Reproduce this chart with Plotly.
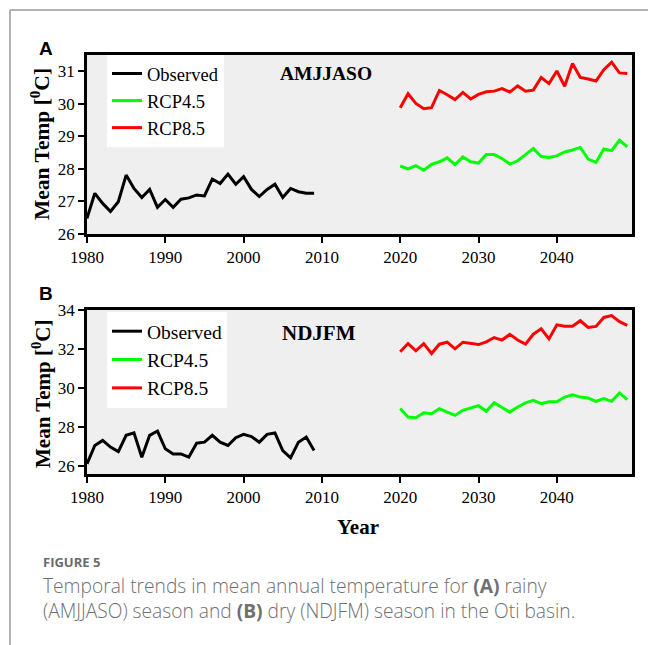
import plotly.graph_objects as go

# ---------------- data ----------------
obs_years = list(range(1980, 2010))
fut_years = list(range(2020, 2050))

obs_A = [26.48, 27.25, 26.94, 26.69, 26.99, 27.81, 27.40, 27.12, 27.37, 26.82,
         27.06, 26.82, 27.07, 27.11, 27.20, 27.17, 27.69, 27.55, 27.84, 27.53,
         27.76, 27.37, 27.15, 27.37, 27.53, 27.12, 27.40, 27.30, 27.25, 27.25]
rcp45_A = [28.09, 28.00, 28.10, 27.96, 28.14, 28.22, 28.34, 28.13, 28.37, 28.22,
           28.18, 28.44, 28.44, 28.32, 28.15, 28.25, 28.44, 28.63, 28.38, 28.35,
           28.40, 28.52, 28.58, 28.66, 28.30, 28.20, 28.61, 28.56, 28.88, 28.68]
rcp85_A = [29.88, 30.31, 30.01, 29.85, 29.88, 30.41, 30.28, 30.13, 30.35, 30.15,
           30.29, 30.37, 30.39, 30.47, 30.36, 30.55, 30.39, 30.42, 30.81, 30.62,
           31.01, 30.54, 31.24, 30.81, 30.76, 30.70, 31.05, 31.28, 30.95, 30.93]

obs_B = [26.12, 27.06, 27.32, 26.98, 26.75, 27.58, 27.71, 26.46, 27.58, 27.80,
         26.89, 26.63, 26.63, 26.46, 27.18, 27.23, 27.58, 27.23, 27.06, 27.46,
         27.63, 27.52, 27.23, 27.63, 27.70, 26.80, 26.43, 27.23, 27.49, 26.80]
rcp45_B = [28.95, 28.52, 28.48, 28.74, 28.69, 28.95, 28.77, 28.60, 28.86, 28.98,
           29.10, 28.81, 29.25, 29.01, 28.77, 29.03, 29.24, 29.37, 29.20, 29.30,
           29.30, 29.54, 29.66, 29.54, 29.49, 29.32, 29.46, 29.32, 29.75, 29.41]
rcp85_B = [31.86, 32.28, 31.91, 32.28, 31.77, 32.25, 32.35, 32.01, 32.35, 32.28,
           32.23, 32.37, 32.59, 32.46, 32.75, 32.46, 32.25, 32.76, 33.04, 32.52,
           33.24, 33.17, 33.17, 33.45, 33.11, 33.16, 33.62, 33.71, 33.40, 33.21]

series_names = ["Observed", "RCP4.5", "RCP8.5"]
series_colors = ["#000000", "#00ff00", "#ff0000"]
x_ticks = [1980, 1990, 2000, 2010, 2020, 2030, 2040]
y_ticks_A = [26, 27, 28, 29, 30, 31]
y_ticks_B = [26, 28, 30, 32, 34]
season_A = "AMJJASO"
season_B = "NDJFM"

# ---------------- geometry helpers ----------------
W, H = 648, 645
L, R, T, B = 87, 16, 55, 171
PW = W - L - R
PH = H - T - B


def px(x):
    return (x - L) / PW


def py(y):
    return (H - B - y) / PH


SERIF = "Liberation Serif"
SANS = "Liberation Sans"
CAP = "Open Sans"

fig = go.Figure()

panels = [
    ("x", "y", "legend", obs_A, rcp45_A, rcp85_A),
    ("x2", "y2", "legend2", obs_B, rcp45_B, rcp85_B),
]
for xa, ya, lg, o, r45, r85 in panels:
    for name, color, xs, ys in zip(series_names, series_colors,
                                   [obs_years, fut_years, fut_years], [o, r45, r85]):
        fig.add_trace(go.Scatter(x=xs, y=ys, mode="lines", name=name,
                                 line=dict(color=color, width=3),
                                 xaxis=xa, yaxis=ya, legend=lg))

axis_common = dict(showline=True, mirror=True, linecolor="black", linewidth=2.5,
                   ticks="outside", ticklen=6, tickwidth=2, tickcolor="black",
                   showgrid=False, zeroline=False,
                   tickfont=dict(family=SERIF, size=17, color="black"))

fig.update_layout(
    width=W, height=H,
    margin=dict(l=L, r=R, t=T, b=B),
    paper_bgcolor="white", plot_bgcolor="#efefef",
    showlegend=True,
    xaxis=dict(domain=[0, 1], anchor="y", range=[1980, 2049.6], tickvals=x_ticks, **axis_common),
    yaxis=dict(domain=[py(234), 1], anchor="x", range=[26, 31.5], tickvals=y_ticks_A, **axis_common),
    xaxis2=dict(domain=[0, 1], anchor="y2", range=[1980, 2049.6], tickvals=x_ticks, **axis_common),
    yaxis2=dict(domain=[0, py(310)], anchor="x2", range=[25.6, 34], tickvals=y_ticks_B, **axis_common),
    legend=dict(x=px(107), y=py(55), xanchor="left", yanchor="top",
                bgcolor="white", borderwidth=0,
                font=dict(family=SERIF, size=18.5, color="black"),
                tracegroupgap=0),
    legend2=dict(x=px(107), y=py(312), xanchor="left", yanchor="top",
                 bgcolor="white", borderwidth=0,
                 font=dict(family=SERIF, size=19.5, color="black"),
                 tracegroupgap=0),
)

caption = ("Temporal trends in mean annual temperature for <b>(A)</b> rainy<br>"
           "(AMJJASO) season and <b>(B)</b> dry (NDJFM) season in the Oti basin.")

annotations = [
    dict(text="<b>A</b>", x=px(45.5), y=py(49), font=dict(family=SANS, size=19, color="black"),
         xanchor="center", yanchor="middle"),
    dict(text="<b>B</b>", x=px(45.5), y=py(293), font=dict(family=SANS, size=19, color="black"),
         xanchor="center", yanchor="middle"),
    dict(text="<b>%s</b>" % season_A, x=px(326), y=py(73), font=dict(family=SERIF, size=19.5, color="black"),
         xanchor="center", yanchor="middle"),
    dict(text="<b>%s</b>" % season_B, x=px(319), y=py(333), font=dict(family=SERIF, size=21, color="black"),
         xanchor="center", yanchor="middle"),
    dict(text="<b>Mean Temp [<sup>0</sup>C]</b>", x=px(40), y=py(144), textangle=-90,
         font=dict(family=SERIF, size=21.5, color="black"),
         xanchor="center", yanchor="middle"),
    dict(text="<b>Mean Temp [<sup>0</sup>C]</b>", x=px(41), y=py(394), textangle=-90,
         font=dict(family=SERIF, size=21, color="black"),
         xanchor="center", yanchor="middle"),
    dict(text="<b>Year</b>", x=px(358), y=py(527), font=dict(family=SERIF, size=21, color="black"),
         xanchor="center", yanchor="middle"),
    dict(text="<b>FIGURE 5</b>", x=px(42), y=py(562), font=dict(family=CAP, size=13, color="#6b6b6b"),
         xanchor="left", yanchor="middle"),
    dict(text=caption, align="left",
         x=px(42), y=py(598), font=dict(family=CAP, size=19.2, color="#707070", weight=300),
         xanchor="left", yanchor="middle"),
]
for a in annotations:
    a.update(xref="paper", yref="paper", showarrow=False, borderpad=0)
fig.update_layout(annotations=annotations)

fig.add_shape(type="line", xref="paper", yref="paper", x0=px(10), x1=px(648), y0=py(10), y1=py(10),
              line=dict(color="#999999", width=1.5))
fig.add_shape(type="line", xref="paper", yref="paper", x0=px(10), x1=px(10), y0=py(10), y1=py(645),
              line=dict(color="#999999", width=1.5))

fig.write_html("out.html", config={"displayModeBar": False},
               post_script="document.body.style.margin='0px';")
